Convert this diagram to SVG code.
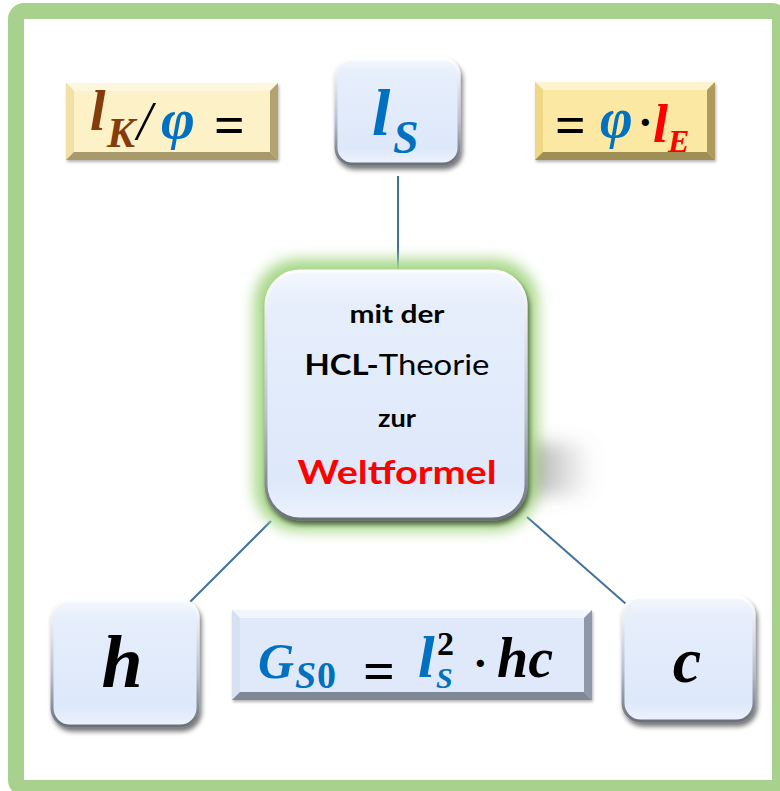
<svg xmlns="http://www.w3.org/2000/svg" width="780" height="791" viewBox="0 0 780 791">
<defs>
<linearGradient id="nodeFill" x1="0" y1="0" x2="0" y2="1">
<stop offset="0" stop-color="#f4f7fe"/>
<stop offset="0.15" stop-color="#e6eefb"/>
<stop offset="0.85" stop-color="#dde8fa"/>
<stop offset="1" stop-color="#eef3fd"/>
</linearGradient>
<linearGradient id="nodeEdge" x1="0" y1="0" x2="0" y2="1">
<stop offset="0" stop-color="#ffffff"/>
<stop offset="0.6" stop-color="#b8bfcc"/>
<stop offset="1" stop-color="#6b707a"/>
</linearGradient>
<linearGradient id="shadowGrad" x1="0" y1="0" x2="1" y2="0">
<stop offset="0" stop-color="#303030" stop-opacity="0.95"/>
<stop offset="1" stop-color="#808080" stop-opacity="0"/>
</linearGradient>
<filter id="sh" x="-20%" y="-20%" width="140%" height="140%">
<feGaussianBlur in="SourceAlpha" stdDeviation="2.5"/>
<feOffset dx="2" dy="4" result="b"/>
<feComponentTransfer><feFuncA type="linear" slope="0.55"/></feComponentTransfer>
<feMerge><feMergeNode/><feMergeNode in="SourceGraphic"/></feMerge>
</filter>
<filter id="glow" x="-30%" y="-30%" width="160%" height="160%">
<feGaussianBlur stdDeviation="7"/>
</filter>
<filter id="blur6" x="-50%" y="-50%" width="200%" height="200%">
<feGaussianBlur stdDeviation="9"/>
</filter>
<filter id="bevSh" x="-10%" y="-10%" width="120%" height="130%">
<feGaussianBlur in="SourceAlpha" stdDeviation="1.5"/>
<feOffset dx="1" dy="2"/>
<feComponentTransfer><feFuncA type="linear" slope="0.3"/></feComponentTransfer>
<feMerge><feMergeNode/><feMergeNode in="SourceGraphic"/></feMerge>
</filter>
</defs>
<style>
.frame{fill:#ffffff;stroke:#a9d18e;stroke-width:16}
.node{fill:url(#nodeFill);stroke:url(#nodeEdge);stroke-width:3}
.conn{stroke:#41719c;stroke-width:2;fill:none}
.m{font-family:"Liberation Serif","DejaVu Serif",serif;font-weight:bold;font-style:italic}
.up{font-style:normal}
.sans{font-family:Lato,"Liberation Sans",sans-serif;text-anchor:middle}
.blue{fill:#0070c0}
.brown{fill:#843c0c}
.red{fill:#ff0000}
.blk{fill:#000000}
</style>
<rect class="frame" x="16" y="11" width="764" height="777" rx="8"/>

<g id="connectors">
<line class="conn" x1="398" y1="176" x2="398" y2="270"/>
<line class="conn" x1="271" y1="521" x2="189" y2="603"/>
<line class="conn" x1="527" y1="517" x2="626" y2="604"/>
</g>

<g id="lK">
<rect x="66" y="83" width="212" height="77" fill="#f3e4ad" filter="url(#bevSh)"/>
<polygon points="66,83 278,83 270,91 74,91" fill="#fdf7df"/>
<polygon points="66,83 74,91 74,152 66,160" fill="#f1e1a7"/>
<polygon points="278,83 278,160 270,152 270,91" fill="#b3a373"/>
<polygon points="66,160 278,160 270,152 74,152" fill="#a89a6b"/>
<rect x="74" y="91" width="196" height="61" fill="#fcf1c7"/>
<text class="m" y="130"><tspan class="brown" x="90" font-size="56">l</tspan><tspan class="brown" x="107" y="147" font-size="42">K</tspan><tspan class="blk" x="137" y="139" font-size="54" font-weight="normal">/</tspan><tspan class="blue" x="161" y="138" font-size="58">φ</tspan><tspan class="blk up" x="214" y="143" font-size="54">=</tspan></text>
</g>

<g id="lS">
<rect class="node" x="336" y="59" width="123" height="105" rx="16" filter="url(#sh)"/>
<text class="m blue"><tspan x="372" y="135" font-size="66">l</tspan><tspan x="393" y="153" font-size="46">S</tspan></text>
</g>

<g id="phiE">
<rect x="535" y="82" width="180" height="78" fill="#f2dc8a" filter="url(#bevSh)"/>
<polygon points="535,82 715,82 707,90 543,90" fill="#fdf4cf"/>
<polygon points="535,82 543,90 543,152 535,160" fill="#efd885"/>
<polygon points="715,82 715,160 707,152 707,90" fill="#ad9a5c"/>
<polygon points="535,160 715,160 707,152 543,152" fill="#a08f55"/>
<rect x="543" y="90" width="164" height="62" fill="#fbe8a3"/>
<text class="m"><tspan class="blk up" x="555" y="143" font-size="54">=</tspan><tspan class="blue" x="600" y="137" font-size="56">φ</tspan><tspan class="blk up" x="638" y="137" font-size="44">·</tspan><tspan class="red" x="653" y="142" font-size="54">l</tspan><tspan class="red" x="668" y="152" font-size="32">E</tspan></text>
</g>

<g id="center">
<rect x="470" y="443" width="125" height="52" rx="20" fill="url(#shadowGrad)" filter="url(#blur6)"/>
<rect x="254" y="259" width="284" height="272" rx="44" fill="#a9d88a" filter="url(#glow)"/>
<rect class="node" x="266" y="271" width="260" height="248" rx="34" filter="url(#sh)"/>
<text class="sans" x="397" y="323" font-size="24" font-weight="bold" fill="#000" textLength="95" lengthAdjust="spacingAndGlyphs">mit der</text>
<text class="sans" x="397" y="375" font-size="29" fill="#000" textLength="185" lengthAdjust="spacingAndGlyphs"><tspan font-weight="bold">HCL-</tspan>Theorie</text>
<text class="sans" x="397" y="427" font-size="24" font-weight="bold" fill="#000" textLength="38" lengthAdjust="spacingAndGlyphs">zur</text>
<text class="sans" x="397" y="484" font-size="33" font-weight="bold" fill="#ff0000" textLength="199" lengthAdjust="spacingAndGlyphs">Weltformel</text>
</g>

<g id="h">
<rect class="node" x="52" y="600" width="146" height="126" rx="18" filter="url(#sh)"/>
<text class="m blk" x="122" y="687" font-size="74" text-anchor="middle">h</text>
</g>

<g id="G">
<rect x="232" y="610" width="360" height="90" fill="#cfdbee" filter="url(#bevSh)"/>
<polygon points="232,610 592,610 584,618 240,618" fill="#f3f7fd"/>
<polygon points="232,610 240,618 240,692 232,700" fill="#d6e1f2"/>
<polygon points="592,610 592,700 584,692 584,618" fill="#8e98a8"/>
<polygon points="232,700 592,700 584,692 240,692" fill="#7f8897"/>
<rect x="240" y="618" width="344" height="74" fill="#dfe9f9"/>
<text class="m"><tspan class="blue" x="258" y="678" font-size="50">G</tspan><tspan class="blue" x="295" y="688" font-size="38">S</tspan><tspan class="blue up" x="317" y="688" font-size="38">0</tspan><tspan class="blk up" x="363" y="690" font-size="56">=</tspan><tspan class="blue" x="418" y="677" font-size="60">l</tspan><tspan class="blk up" x="437" y="655" font-size="34">2</tspan><tspan class="blue" x="436" y="688" font-size="30">S</tspan><tspan class="blk up" x="473" y="678" font-size="44">·</tspan><tspan class="blk" x="497" y="677" font-size="56">hc</tspan></text>
</g>

<g id="c">
<rect class="node" x="623" y="597" width="131" height="124" rx="18" filter="url(#sh)"/>
<text class="m blk" x="687" y="682" font-size="64" text-anchor="middle">c</text>
</g>
</svg>
